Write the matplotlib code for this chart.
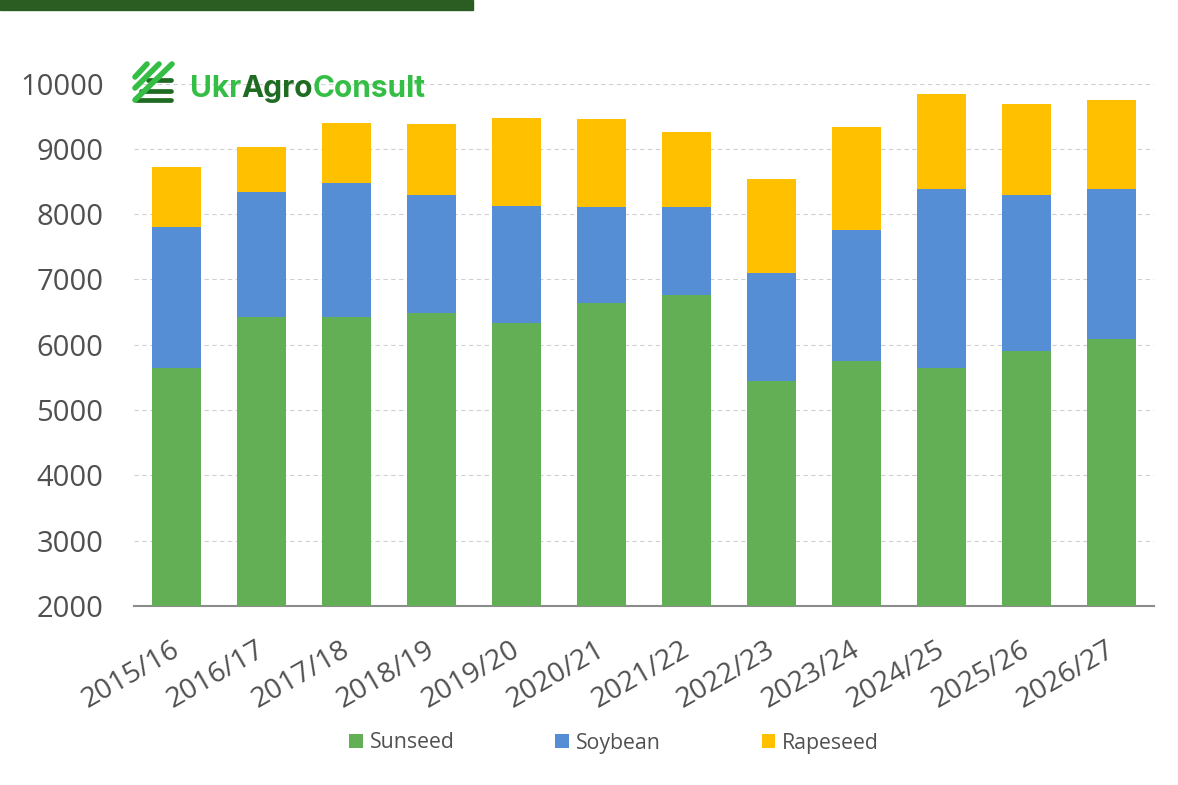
import matplotlib
matplotlib.use("Agg")
import matplotlib.pyplot as plt
from matplotlib.patches import Rectangle
from matplotlib.lines import Line2D
from matplotlib.transforms import ScaledTranslation

seasons = ["2015/16","2016/17","2017/18","2018/19","2019/20","2020/21","2021/22","2022/23","2023/24","2024/25","2025/26","2026/27"]
sunseed = [5650,6430,6420,6490,6340,6640,6760,5450,5750,5650,5900,6090]
soybean = [2150,1910,2050,1810,1790,1470,1350,1650,2010,2740,2400,2300]
rapeseed = [920,690,920,1080,1340,1340,1140,1440,1570,1450,1380,1350]
labels = ["Sunseed","Soybean","Rapeseed"]
colors = ["#63AF55","#558ED5","#FFC000"]

W,H = 1178,785
fig = plt.figure(figsize=(W/100,H/100),dpi=100)
ax = fig.add_axes([134/W,1-606/H,(1154-134)/W,(606-83.5)/H])
x = list(range(len(seasons)))
bottom = [0]*len(x)
for vals,c,l in zip([sunseed,soybean,rapeseed],colors,labels):
    ax.bar(x,vals,bottom=bottom,width=0.57,color=c,label=l,zorder=3)
    bottom = [a+b for a,b in zip(bottom,vals)]
ax.set_xlim(-0.5,11.5)
ax.set_ylim(2000,10000)
ax.set_yticks(range(2000,10001,1000))
ax.yaxis.grid(True,color="#D0D0D0",linestyle=(0,(4,3)),linewidth=0.8,zorder=0)
ax.set_axisbelow(True)
for s in ["top","right","left"]:
    ax.spines[s].set_visible(False)
ax.spines["bottom"].set_color("#8C8C8C")
ax.spines["bottom"].set_linewidth(1.5)
ax.set_xticks(x)
ax.set_xticklabels(seasons,rotation=30,ha="right",rotation_mode="anchor",fontsize=20.5,color="#505050",family="Open Sans")
ax.tick_params(axis="x",length=0,pad=21.5)
shift = ScaledTranslation(-4.2/72,0,fig.dpi_scale_trans)
for t in ax.get_xticklabels():
    t.set_transform(t.get_transform()+shift)
ax.tick_params(axis="y",length=0,pad=22,labelsize=21,labelcolor="#505050")
for t in ax.get_yticklabels():
    t.set_family("Open Sans")
fig.add_artist(Rectangle((0,1-10/H),473/W,10/H,transform=fig.transFigure,color="#2B5D22"))
# logo
def fx(px): return px/W
def fy(py): return 1-py/H
green="#35BE45"
dark="#1F6B22"
for x0,x1,yy in [(148,171,80),(141,171,91),(136,171,100)]:
    fig.add_artist(Line2D([fx(x0),fx(x1)],[fy(yy),fy(yy)],transform=fig.transFigure,color=dark,lw=3.4,solid_capstyle="round"))
for (x0,y0,x1,y1) in [(135,77,147,64),(135,88,159,64),(135,100,172,64)]:
    fig.add_artist(Line2D([fx(x0),fx(x1)],[fy(y0),fy(y1)],transform=fig.transFigure,color=green,lw=4,solid_capstyle="round"))
for px,txt,c in [(190,"Ukr",green),(241,"Agro",dark),(313,"Consult",green)]:
    fig.text(fx(px),fy(97),txt,fontsize=21.5,fontweight="bold",color=c,va="baseline",family="Inter")
h,l = ax.get_legend_handles_labels()
leg = fig.legend(h,l,loc="center",bbox_to_anchor=(614/W,1-743/H),ncol=3,frameon=False,columnspacing=4.75,handlelength=0.65,handleheight=0.65,handletextpad=0.32,prop={"family":"Open Sans","size":15.3})
for t in leg.get_texts():
    t.set_color("#505050")
fig.savefig("out.png",dpi=100)
